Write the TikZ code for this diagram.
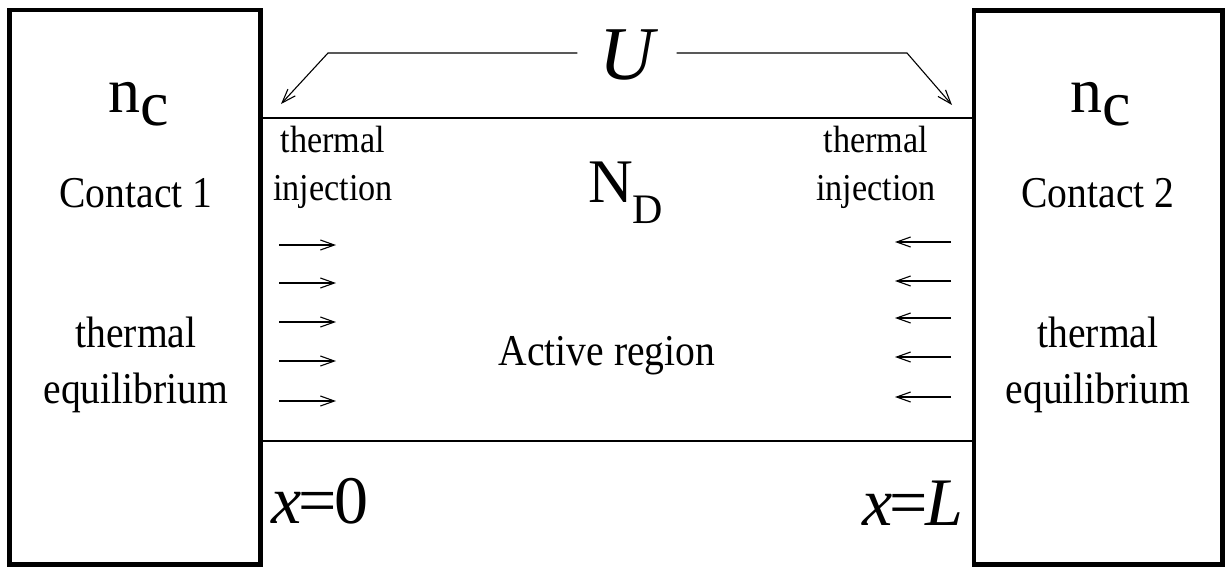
\documentclass[tikz,border=0pt]{standalone}
\usepackage{fontspec}
\setmainfont{Liberation Serif}
\newfontfamily\condensedserif[FakeStretch=0.9]{Liberation Serif}
\usetikzlibrary{arrows.meta}
\begin{document}
\begin{tikzpicture}[x=1pt,y=-1pt,
  contactbox/.style={draw,line width=4.5pt,inner sep=0pt,minimum width=251pt,minimum height=554.5pt},
  regionline/.style={line width=2.5pt},
  thin arrow/.style={line width=1.1pt,-{Straight Barb[length=14pt,width=10pt]}},
  bigtext/.style={anchor=base,font=\condensedserif\fontsize{44}{48}\selectfont,inner sep=0pt},
  smalltext/.style={anchor=base,font=\condensedserif\fontsize{38}{42}\selectfont,inner sep=0pt},
  mathtext/.style={anchor=base west,font=\fontsize{68}{80}\selectfont,inner sep=0pt}]
\useasboundingbox (0,0) rectangle (1226,568);
% contacts
\node[contactbox] (c1) at (135,287.25) {};
\node[contactbox,minimum width=248.5pt,minimum height=554pt] (c2) at (1098.25,287.5) {};
% active region boundaries
\coordinate (tl) at (261,118);
\coordinate (tr) at (974,118);
\coordinate (bl) at (261,441);
\coordinate (br) at (974,441);
\draw[regionline] (tl) -- (tr);
\draw[regionline] (bl) -- (br);
% U
\node[inner sep=0pt,font=\fontsize{76}{80}\selectfont\itshape] (U) at (627,55) {U};
\coordinate (ul1) at (328,53);
\coordinate (ul2) at (281,104);
\coordinate (ur1) at (907,53);
\coordinate (ur2) at (952,105);
\draw[thin arrow] ([xshift=-22pt]U.west |- ul1) -- (ul1) -- (ul2);
\draw[thin arrow] ([xshift=22pt]U.east |- ur1) -- (ur1) -- (ur2);
% contact labels
\node[anchor=base west,inner sep=0pt,font=\fontsize{64}{70}\selectfont] (nc1) at (108,112) {n\raisebox{-13pt}{c}};
\node[anchor=base west,inner sep=0pt,font=\fontsize{64}{70}\selectfont] (nc2) at (1070,112) {n\raisebox{-13pt}{c}};
\node[bigtext] (ct1) at (136,207) {Contact 1};
\node[bigtext] (ct2) at (1098,207) {Contact 2};
\node[bigtext] (te1) at (136,347) {thermal};
\node[bigtext] (eq1) at (136,403) {equilibrium};
\node[bigtext] (te2) at (1098,347) {thermal};
\node[bigtext] (eq2) at (1098,403) {equilibrium};
% injection labels
\node[smalltext] (ti1) at (333,152) {thermal};
\node[smalltext] (in1) at (333,200) {injection};
\node[smalltext] (ti2) at (876,152) {thermal};
\node[smalltext] (in2) at (876,200) {injection};
% N_D and active region
\node[anchor=base west,inner sep=0pt,font=\fontsize{62}{70}\selectfont] (ND) at (588,202) {N\fontsize{42}{50}\selectfont\raisebox{-21pt}{D}};
\node[bigtext] (act) at (607,365) {Active region};
% injection arrows
\foreach \i/\yl/\yr in {1/245/242,2/283/281,3/322/318,4/361/357,5/401/397}{
  \coordinate (la\i) at (279,\yl);
  \coordinate (lb\i) at (336,\yl);
  \coordinate (ra\i) at (951,\yr);
  \coordinate (rb\i) at (895,\yr);
  \draw[thin arrow] (la\i) -- (lb\i);
  \draw[thin arrow] (ra\i) -- (rb\i);
}
% positions
\node[mathtext] (x0) at (271,523) {\textit{x}\kern-3pt=\kern-2pt0};
\node[mathtext,anchor=base east] (xL) at (964,525) {\textit{x}\kern-3pt=\kern-2pt\textit{L}};
\end{tikzpicture}
\end{document}
